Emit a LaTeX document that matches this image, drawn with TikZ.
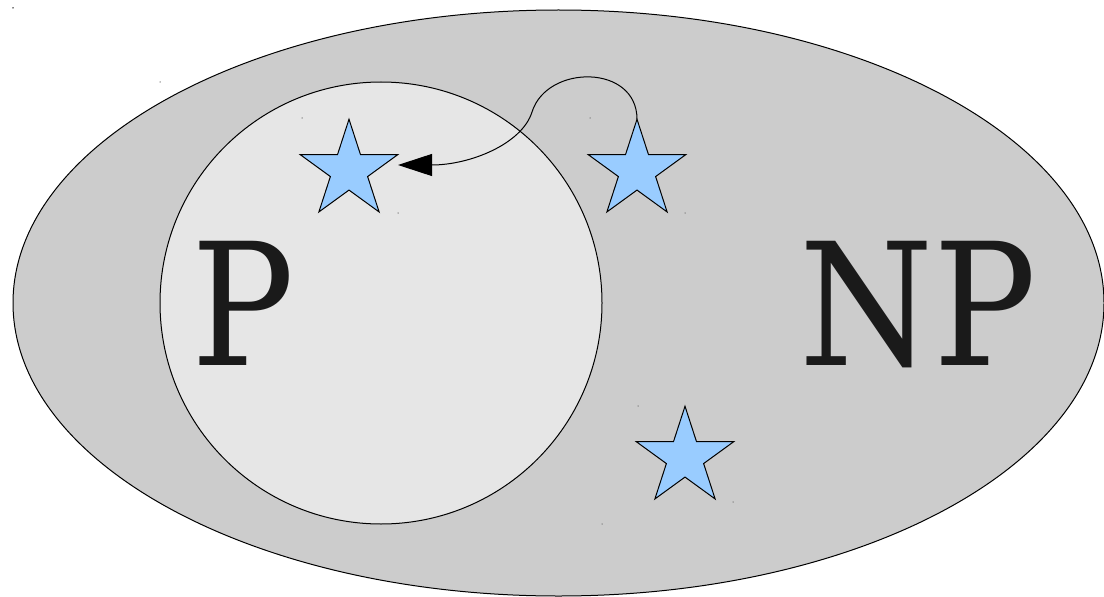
\documentclass[tikz,border=0pt]{standalone}
\usepackage{fontspec}
\setmainfont{DejaVu Serif}
\newfontfamily\classfont[FakeStretch=0.9]{DejaVu Serif}
\usetikzlibrary{shapes.geometric,arrows.meta}
\definecolor{npfill}{HTML}{CCCCCC}
\definecolor{pfill}{HTML}{E6E6E6}
\definecolor{starfill}{HTML}{99CCFF}
\definecolor{lettergray}{HTML}{1A1A1A}
\tikzset{
  bigstar/.style={star,star points=5,star point ratio=2.618,fill=starfill,draw=black,
    line width=0.2mm,inner sep=0pt,outer sep=0pt,minimum size=20.5mm},
  classname/.style={anchor=base,inner sep=0pt,text=lettergray,
    font=\classfont\fontsize{97}{97}\selectfont}
}
\begin{document}
\begin{tikzpicture}[x=0.2mm,y=-0.2mm]
\def\cx{558.5}
\def\cy{303}
\useasboundingbox (0,0) rectangle (1104,597);
\draw[fill=npfill,line width=0.2mm] (\cx,\cy) ellipse (545.5 and 293);
\draw[fill=pfill,line width=0.2mm] (381,303) circle (221);
\node[classname] (p) at (243,365) {P};
\node[classname] (np) at (918,365) {NP};
\node[bigstar] (s1) at (349,170.5) {};
\node[bigstar] (s2) at (637,170.5) {};
\node[bigstar] (s3) at (685,457.5) {};
\coordinate (tip) at (398,165);
\draw[line width=0.2mm,-{Triangle[length=6.8mm,width=4.4mm]}] (s2.north)
  .. controls (637,64) and (547,64) .. (532,112)
  .. controls (522,144) and (470,165) .. (tip);
% small marks
\foreach \p in {(160,82),(302,118),(398,213),(590,118),(685,213),(638,406),(733,502),(602,524)}
  \fill[gray] \p circle (0.15mm);
\fill (13,8) circle (0.15mm);
\end{tikzpicture}
\end{document}
